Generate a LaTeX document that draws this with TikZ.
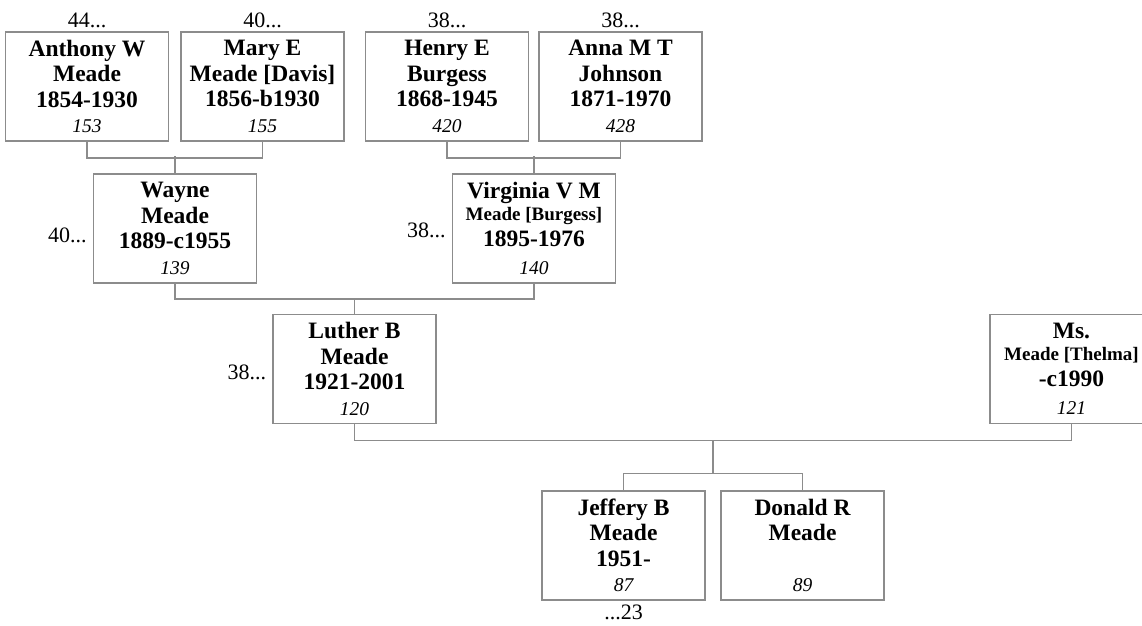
\documentclass[tikz,border=0pt]{standalone}
\usepackage{fontspec}
\setmainfont{Liberation Serif}
\usetikzlibrary{calc}

\definecolor{linegray}{HTML}{8C8C8C}

\begin{document}
\begin{tikzpicture}[x=1pt,y=-1pt,
    person/.style={draw=linegray,line width=1.5pt,minimum width=163pt,
        minimum height=109pt,inner sep=0pt,align=center,
        font=\fontsize{23.5}{25.5}\selectfont\bfseries},
    refno/.style={font=\fontsize{22}{24}\selectfont,inner sep=0pt},
    link/.style={draw=linegray,line width=1.5pt}]

    % frame of the picture
    \useasboundingbox (0,0) rectangle (1142,625);

    % rows of the tree
    \pgfmathsetmacro{\rowA}{86.5}
    \pgfmathsetmacro{\rowB}{228.5}
    \pgfmathsetmacro{\rowC}{369}
    \pgfmathsetmacro{\rowD}{545.5}

    % grandparents
    \node[person] (anthony) at (87,\rowA)
        {Anthony W\\Meade\\1854-1930\\{\mdseries\itshape\fontsize{19.5}{22}\selectfont 153}};
    \node[person] (mary) at (262.5,\rowA)
        {Mary E\\Meade [Davis]\\1856-b1930\\{\mdseries\itshape\fontsize{19.5}{22}\selectfont 155}};
    \node[person] (henry) at (447,\rowA)
        {Henry E\\Burgess\\1868-1945\\{\mdseries\itshape\fontsize{19.5}{22}\selectfont 420}};
    \node[person] (anna) at (620.5,\rowA)
        {Anna M T\\Johnson\\1871-1970\\{\mdseries\itshape\fontsize{19.5}{22}\selectfont 428}};

    % parents
    \node[person] (wayne) at (175,\rowB)
        {Wayne\\Meade\\1889-c1955\\{\mdseries\itshape\fontsize{19.5}{22}\selectfont 139}};
    \node[person] (virginia) at (534,\rowB)
        {Virginia V M\\[-3pt]{\fontsize{19}{22}\selectfont Meade [Burgess]}\\1895-1976\\[3pt]{\mdseries\itshape\fontsize{19.5}{22}\selectfont 140}};

    % couple
    \node[person] (luther) at (354.5,\rowC)
        {Luther B\\Meade\\1921-2001\\{\mdseries\itshape\fontsize{19.5}{22}\selectfont 120}};
    \node[person] (thelma) at (1071.5,\rowC)
        {Ms.\\[-3pt]{\fontsize{19}{22}\selectfont Meade [Thelma]}\\-c1990\\[3pt]{\mdseries\itshape\fontsize{19.5}{22}\selectfont 121}};

    % children
    \node[person] (jeffery) at (623.5,\rowD)
        {Jeffery B\\Meade\\1951-\\{\mdseries\itshape\fontsize{19.5}{22}\selectfont 87}};
    \node[person] (donald) at (802.5,\rowD)
        {Donald R\\Meade\\~\\{\mdseries\itshape\fontsize{19.5}{22}\selectfont 89}};

    % page references
    \node[refno,anchor=base] (anthonyref) at ([yshift=4pt]anthony.north) {44...};
    \node[refno,anchor=base] (maryref) at ([yshift=4pt]mary.north) {40...};
    \node[refno,anchor=base] (henryref) at ([yshift=4pt]henry.north) {38...};
    \node[refno,anchor=base] (annaref) at ([yshift=4pt]anna.north) {38...};
    \node[refno,anchor=base east] (wayneref) at ([xshift=-6pt,yshift=-14pt]wayne.west) {40...};
    \node[refno,anchor=base east] (virginiaref) at ([xshift=-6pt,yshift=-9pt]virginia.west) {38...};
    \node[refno,anchor=base east] (lutherref) at ([xshift=-6pt,yshift=-10pt]luther.west) {38...};
    \node[refno,anchor=base] (jefferyref) at ([yshift=-19pt]jeffery.south) {...23};

    % family lines
    \draw[link] (anthony.south) -- ++(0,16) -| (mary.south);
    \draw[link] (wayne.north) -- ++(0,-17);
    \draw[link] (henry.south) -- ++(0,16) -| (anna.south);
    \draw[link] (virginia.north) -- ++(0,-17);
    \draw[link] (wayne.south) -- ++(0,15) -| (virginia.south);
    \draw[link] (luther.north) -- ++(0,-16);
    \draw[link] (luther.south) -- ++(0,16) -| (thelma.south);
    \draw[link] (jeffery.north) -- ++(0,-17) -| (donald.north);

    % drop from the couple to the children
    \coordinate (couple) at ($(luther.south)!0.5!(thelma.south)+(0,16)$);
    \coordinate (kids) at ($(jeffery.north)!0.5!(donald.north)+(0,-17)$);
    \draw[link] (couple) -- (kids);

\end{tikzpicture}
\end{document}
